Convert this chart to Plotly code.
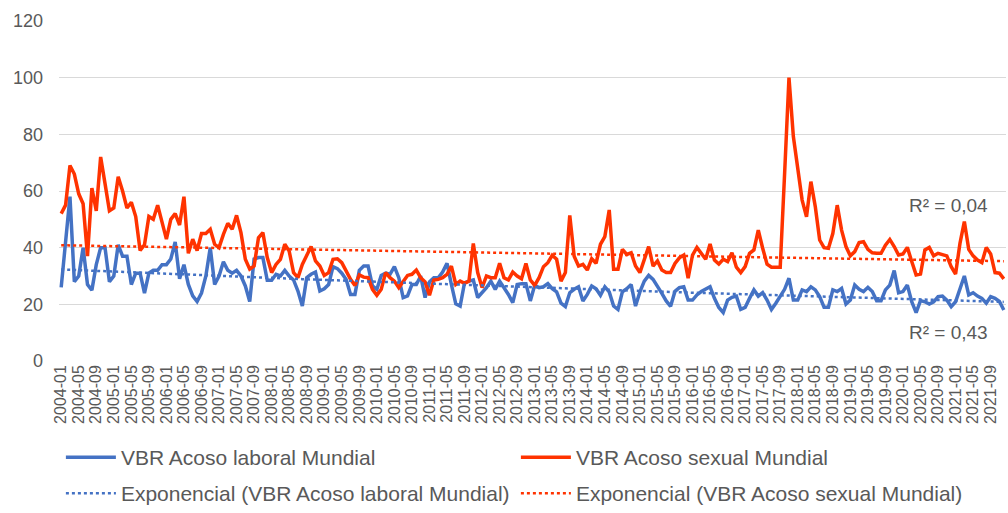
import numpy as np
import plotly.graph_objects as go

# Monthly categories 2004-01 .. 2021-12
months = [f"{y}-{m:02d}" for y in range(2004, 2022) for m in range(1, 13)]
tick_labels = months[::4]

acoso_laboral = [
    26, 42, 58, 28, 30, 40, 27, 25, 34, 40, 40, 28, 30, 41, 37, 37, 27, 31, 31, 24,
    31, 32, 32, 34, 34, 36, 42, 29, 34, 27, 23, 21, 24, 30, 40, 27, 30, 35, 32, 31,
    32, 30, 26.5, 21, 36, 36.5, 36.5, 28.5, 28.5, 30.6, 30, 32, 30, 28.6, 24.7, 19.4, 29.4, 30.6, 31.4, 24.7,
    25.5, 27, 33.3, 32.6, 31, 28.8, 23.5, 23.5, 32, 33.5, 33.5, 26.5, 25.3, 30.2, 31, 30.6, 33.3, 29.4, 22.4, 23,
    27, 27, 30, 22.4, 27.9, 29.4, 29.4, 31.4, 34.5, 27, 20.2, 19.4, 27.6, 28.2, 28.6, 22.4, 24.1, 25.9, 28.2, 25.3,
    28.2, 26, 23.5, 20.6, 27, 27.3, 27.3, 21.2, 26.7, 25.9, 26.2, 27.3, 25.5, 24.4, 20.4, 19.2, 24.1, 25.3, 26.2, 21.2,
    23.5, 26.5, 25.5, 23.2, 26.2, 24.4, 19.4, 18.2, 24.4, 25.5, 27, 19.4, 24.4, 28.2, 30.2, 28.8, 26.5, 23.9, 21.2, 19.3,
    24.6, 25.9, 26.2, 21.5, 21.5, 23.3, 24.5, 25.4, 26.2, 22.1, 18.9, 17.1, 21.5, 22.5, 22.9, 18.2, 18.9, 22.1, 25.1, 22.9,
    24.1, 21.5, 18.2, 20.4, 22.7, 25.3, 29.2, 21.5, 21.5, 25.1, 24.5, 26.2, 25.1, 22.7, 19, 19, 25.1, 24.5, 25.6, 20.1,
    21.5, 26.8, 25.3, 24.5, 26, 24.5, 21.3, 21.3, 25.1, 26.8, 31.9, 24.1, 24.5, 26.8, 20.9, 17.1, 21.3, 20.9, 20.1, 20.9,
    22.7, 22.9, 21.5, 19.2, 20.9, 25.6, 30, 23.3, 24.1, 22.9, 22.1, 20.4, 22.7, 22.1, 21, 18,
]

acoso_sexual = [
    52, 55, 69, 66, 59, 55.5, 37, 61, 53, 72, 62.6, 53, 54, 65, 60, 54, 56, 51, 39, 41,
    51, 50, 55, 48.5, 43, 50, 52, 48, 58, 38, 43, 39, 45, 45, 46.5, 41.2, 40, 44.7, 48.6, 46.5,
    51.4, 45.3, 35.9, 32.4, 33.5, 43.5, 45.3, 36.5, 31.2, 34.1, 35.9, 41.2, 38.8, 31.2, 29.4, 34.1, 37.6, 40.4, 35.3, 33.5,
    30.2, 31.2, 35.9, 36.1, 34.7, 31.8, 28.8, 26.7, 30.4, 29.6, 29.4, 25.3, 23.2, 25.3, 31.2, 29.4, 28.2, 25.9, 28.2, 30.2,
    30.6, 32.1, 29.4, 27.9, 23.2, 28.6, 28.8, 29.4, 30.6, 33.5, 27, 28.2, 27.4, 28.2, 41.5, 31.2, 25.9, 30, 29.4, 29.4,
    34.5, 29.4, 28.6, 31.4, 30, 29, 34.4, 28.6, 26.7, 29.4, 33.3, 34.7, 37.3, 35.9, 28.2, 31.2, 51.4, 37, 33.5, 34.1,
    32.1, 36.1, 34.5, 41.2, 43.9, 53.3, 32.4, 32.4, 39.4, 37.6, 38.2, 33.5, 31.2, 35.9, 40.4, 33.5, 35.3, 32.1, 31.2, 31.2,
    34.4, 36.4, 37.4, 29.2, 37.4, 40.1, 38.2, 35.9, 41.3, 35.6, 34.2, 35.9, 35.1, 38.2, 33.1, 31.2, 33.3, 38, 39.2, 46.2,
    39.8, 34.2, 33.1, 33.1, 33.1, 66, 100, 79.2, 67.4, 56.8, 50.9, 63.3, 54.5, 42.7, 40, 39.8, 45, 55, 46.2, 40.4,
    37.1, 38.6, 41.8, 42.1, 39.4, 38.2, 38, 38, 40.9, 42.9, 40.4, 37.4, 37.8, 40.1, 35.1, 30.4, 30.7, 39.2, 40.1, 37.1,
    38, 37.4, 37.1, 33.3, 30.7, 41.5, 49.2, 39.4, 37.1, 35.6, 34.7, 40.1, 37.8, 31.2, 31, 29,
]

series_names = ["VBR Acoso laboral Mundial", "VBR Acoso sexual Mundial"]
trend_names = ["Exponencial (VBR Acoso laboral Mundial)", "Exponencial (VBR Acoso sexual Mundial)"]
r2_labels = ["R² = 0,43", "R² = 0,04"]
colors = ["#4472C4", "#FF3300"]


def exp_trend(values):
    t = np.arange(len(values))
    b, a = np.polyfit(t, np.log(values), 1)
    return np.exp(a + b * t)


fig = go.Figure()
for name, vals, col in zip(series_names, [acoso_laboral, acoso_sexual], colors):
    fig.add_trace(go.Scatter(x=months, y=vals, mode="lines", name=name, legend="legend",
                             line=dict(color=col, width=3.5)))
for name, vals, col in zip(trend_names, [acoso_laboral, acoso_sexual], colors):
    fig.add_trace(go.Scatter(x=months, y=exp_trend(vals), mode="lines", name=name,
                             legend="legend2",
                             line=dict(color=col, width=2.5, dash="dot")))

font_family = "Liberation Sans, Arial, sans-serif"
gray = "#595959"

legend_common = dict(orientation="h", x=0.002, xanchor="left", yref="container",
                     yanchor="top", font=dict(size=21, color=gray),
                     entrywidth=390, entrywidthmode="pixels", itemwidth=50,
                     bgcolor="rgba(0,0,0,0)")

fig.update_layout(
    width=1008, height=513,
    margin=dict(l=59, r=2, t=21, b=152, autoexpand=False),
    paper_bgcolor="white", plot_bgcolor="white",
    font=dict(family=font_family, color=gray),
    showlegend=True,
    legend=dict(y=0.148, **legend_common),
    legend2=dict(y=0.078, **legend_common),
    xaxis=dict(type="category", range=[-0.5, len(months) - 0.5],
               tickmode="array", tickvals=tick_labels, ticktext=tick_labels,
               tickangle=-90, tickfont=dict(size=16, color=gray), automargin=False,
               showgrid=False, showline=False, zeroline=False, ticks=""),
    yaxis=dict(range=[0, 120], tickvals=[0, 20, 40, 60, 80, 100, 120], automargin=False,
               tickfont=dict(size=18, color=gray), showgrid=True, gridcolor="#D9D9D9",
               gridwidth=1.3, zeroline=False, showline=False, ticks="",
               ticklabelstandoff=15),
    annotations=[
        dict(x=1.0, y=55, xref="paper", yref="y", text=r2_labels[1],
             showarrow=False, xanchor="right", yanchor="middle",
             font=dict(size=19, color=gray), xshift=-16),
        dict(x=1.0, y=10, xref="paper", yref="y", text=r2_labels[0],
             showarrow=False, xanchor="right", yanchor="middle",
             font=dict(size=19, color=gray), xshift=-16),
    ],
)

fig.write_html("out.html", config={"displayModeBar": False},
               post_script="document.body.style.margin='0';")
